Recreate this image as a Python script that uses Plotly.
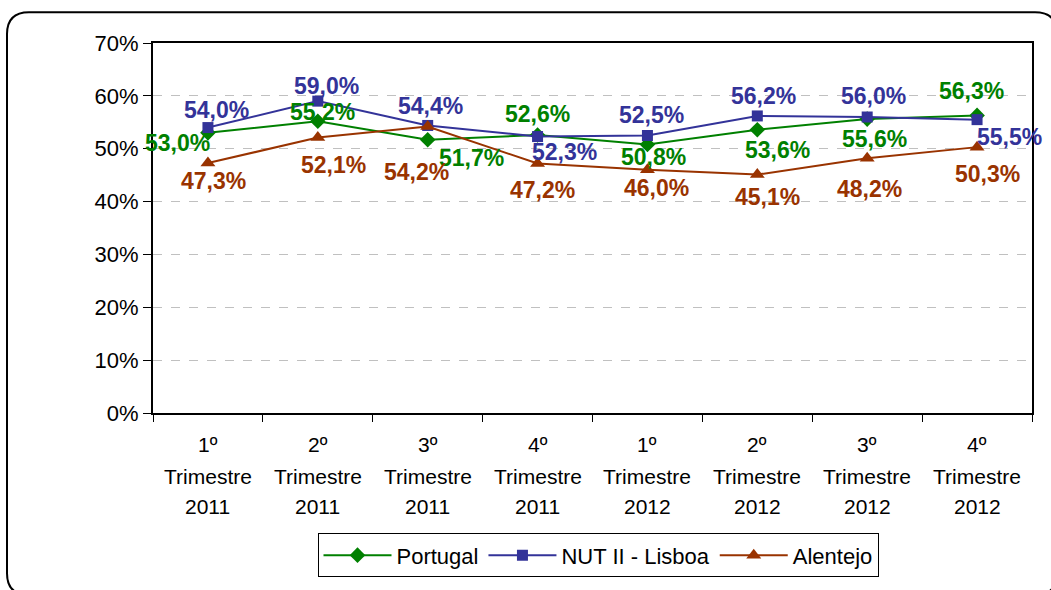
import plotly.graph_objects as go

quarters = ["1º", "2º", "3º", "4º", "1º", "2º", "3º", "4º"]
years = ["2011", "2011", "2011", "2011", "2012", "2012", "2012", "2012"]
categories = [f"{q} Trimestre {y}" for q, y in zip(quarters, years)]
portugal = [53.0, 55.2, 51.7, 52.6, 50.8, 53.6, 55.6, 56.3]
lisboa = [54.0, 59.0, 54.4, 52.3, 52.5, 56.2, 56.0, 55.5]
alentejo = [47.3, 52.1, 54.2, 47.2, 46.0, 45.1, 48.2, 50.3]
y_ticks = [0, 10, 20, 30, 40, 50, 60, 70]
y_ticktext = [f"{v}%" for v in y_ticks]

# label offsets in pixels (dx, dy downward)
off_portugal = [(-30, 10), (5, -9), (44, 18), (0, -21), (6, 13), (20, 20), (7, 20), (-6, -24)]
off_lisboa = [(9, -18), (9, -15), (3, -19), (27, 15), (4, -21), (6, -20), (6, -21), (32, 17)]
off_alentejo = [(6, 18), (16, 27), (-11, 45), (5, 26), (9, 18), (10, 22), (2, 31), (10, 27)]

FONT = "Liberation Sans, Arial, sans-serif"
series = [
    ("Portugal", portugal, "#008000", "diamond", 12, off_portugal),
    ("NUT II - Lisboa", lisboa, "#333399", "square", 11, off_lisboa),
    ("Alentejo", alentejo, "#993300", "triangle-up", 13, off_alentejo),
]

fig = go.Figure()
annotations = []
for name, vals, color, sym, size, offs in series:
    fig.add_trace(go.Scatter(
        x=categories, y=vals, name=name, mode="lines+markers",
        line=dict(color=color, width=2),
        marker=dict(symbol=sym, size=size, color=color),
    ))
    for c, v, (dx, dy) in zip(categories, vals, offs):
        annotations.append(dict(
            x=c, y=v, xref="x", yref="y",
            text=f"{v:.1f}%".replace(".", ","),
            showarrow=False, xshift=dx, yshift=-dy,
            font=dict(family=FONT, size=23, color=color, weight="bold"),
        ))

# plot area in pixels
L, R, T, B = 153, 1032, 43, 415
W, H = R - L, B - T
def px(x):
    return (x - L) / W
def py(y):
    return (B - y) / H

# category labels (three lines each)
for c, q, yr in zip(categories, quarters, years):
    for line, ypix in ((q, 447), ("Trimestre", 479), (yr, 509)):
        annotations.append(dict(
            x=c, y=py(ypix), xref="x", yref="paper", text=line, showarrow=False,
            xanchor="center", yanchor="middle",
            font=dict(family=FONT, size=21, color="black"),
        ))

x0, x1, y0, y1, r = 7, 1057, 12, 598, 22
path = (f"M {px(x0)},{py(y1 - r)} L {px(x0)},{py(y0 + r)} Q {px(x0)},{py(y0)} {px(x0 + r)},{py(y0)} "
        f"L {px(x1 - r)},{py(y0)} Q {px(x1)},{py(y0)} {px(x1)},{py(y0 + r)} "
        f"L {px(x1)},{py(y1 - r)} Q {px(x1)},{py(y1)} {px(x1 - r)},{py(y1)} "
        f"L {px(x0 + r)},{py(y1)} Q {px(x0)},{py(y1)} {px(x0)},{py(y1 - r)} Z")

fig.update_layout(
    width=1051, height=590,
    margin=dict(l=L, r=1051 - R, t=T, b=590 - B),
    paper_bgcolor="white", plot_bgcolor="white",
    font=dict(family=FONT, color="black"),
    showlegend=True,
    legend=dict(orientation="h", x=px(598), xanchor="center", y=py(536), yanchor="top",
                bordercolor="black", borderwidth=1, font=dict(size=22, family=FONT),
                itemwidth=68, tracegroupgap=0),
    annotations=annotations,
    shapes=[dict(type="path", path=path, xref="paper", yref="paper",
                 line=dict(color="black", width=2), layer="below")],
)
fig.update_yaxes(
    range=[0, 70], tickvals=y_ticks, ticktext=y_ticktext,
    showgrid=True, gridcolor="#c0c0c0", griddash="dash", gridwidth=1,
    showline=True, linecolor="black", linewidth=2, mirror=True,
    ticks="outside", ticklen=8, tickcolor="black", tickwidth=1,
    tickfont=dict(size=22, family=FONT), zeroline=False,
)
fig.update_xaxes(
    type="category", range=[-0.5, 7.5], tickson="boundaries",
    showgrid=False, showline=True, linecolor="black", linewidth=2, mirror=True,
    ticks="outside", ticklen=7, tickcolor="black", tickwidth=1,
    showticklabels=False,
)
fig.write_html("out.html", config={"displayModeBar": False},
               post_script="document.body.style.margin='0';")
